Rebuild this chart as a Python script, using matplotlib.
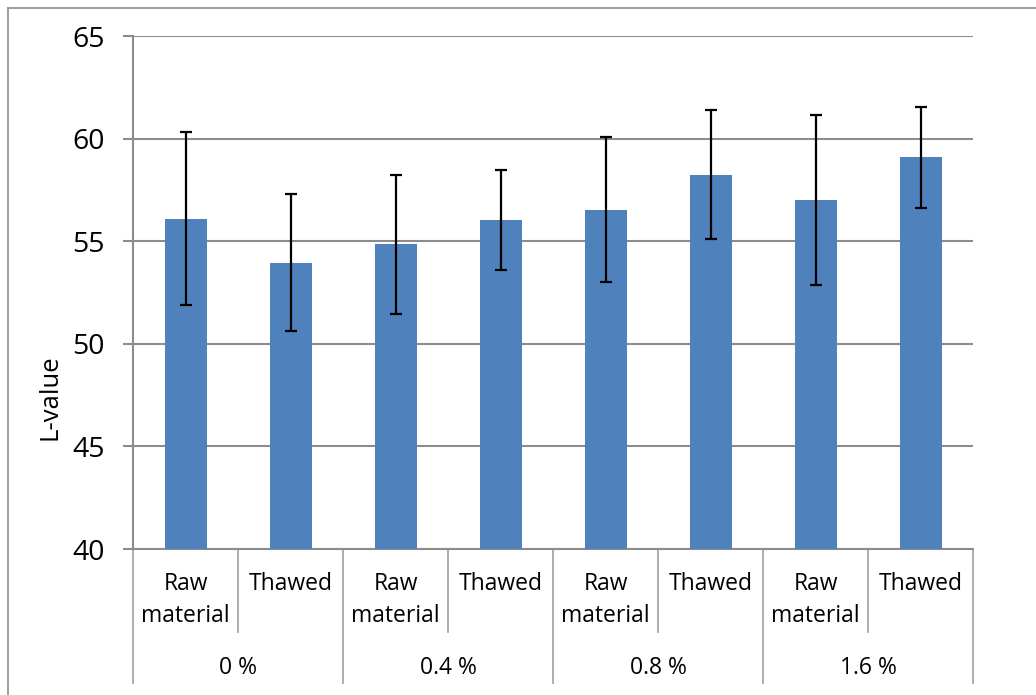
import matplotlib
matplotlib.use("Agg")
import matplotlib.pyplot as plt
from matplotlib.transforms import blended_transform_factory
from matplotlib.lines import Line2D

categories = ["Raw\nmaterial", "Thawed"] * 4
groups = ["0 %", "0.4 %", "0.8 %", "1.6 %"]
values = [56.1, 53.96, 54.85, 56.05, 56.54, 58.25, 57.0, 59.08]
errors = [4.2, 3.35, 3.4, 2.44, 3.52, 3.13, 4.13, 2.44]
yticks = [40, 45, 50, 55, 60, 65]

plt.rcParams['font.family'] = ['Open Sans', 'DejaVu Sans']

W, H = 1036, 695
fig = plt.figure(figsize=(W / 100, H / 100), dpi=100)
ax = fig.add_axes([133 / W, 1 - 549 / H, (973 - 133) / W, (549 - 36) / H])

x = list(range(len(values)))
ax.bar(x, [v - 40 for v in values], bottom=40, width=0.4, color="#4F81BD", zorder=3)
ax.errorbar(x, values, yerr=errors, fmt="none", ecolor="black", elinewidth=1.6,
            capsize=4, capthick=1.6, zorder=4)

ax.set_xlim(-0.5, len(values) - 0.5)
ax.set_ylim(40, 65)
ax.set_yticks(yticks)
ax.set_yticklabels([str(t) for t in yticks], fontsize=20.5)
ax.yaxis.grid(True, color="#8C8C8C", linewidth=1.5, zorder=0)
ax.set_axisbelow(True)
ax.tick_params(axis="y", length=7.2, width=1.5, color="#8C8C8C", direction="out", pad=13)
ax.set_xticks([])
for s in ["top", "right"]:
    ax.spines[s].set_visible(False)
for s in ["left", "bottom"]:
    ax.spines[s].set_color("#8C8C8C")
    ax.spines[s].set_linewidth(1.5)

# y-axis title, centred at pixel (50, 397)
fig.text(50 / W, 1 - 397 / H, "L-value", rotation=90, ha="center", va="center",
         fontsize=18.5)

# category separators and labels
trans = blended_transform_factory(ax.transData, fig.transFigure)
for i in range(len(values) + 1):
    b = i - 0.5
    yend = 683 if i % 2 == 0 else 632
    ax.add_line(Line2D([b, b], [1 - 549 / H, 1 - yend / H], transform=trans,
                       color="#A0A0A0", linewidth=1.2, clip_on=False))
for i, c in enumerate(categories):
    for k, line in enumerate(c.split("\n")):
        ax.text(i, 1 - (584 + 32 * k) / H, line, transform=trans, ha="center",
                va="center", fontsize=16.5)
for g, name in enumerate(groups):
    ax.text(2 * g + 0.5, 1 - 668 / H, name, transform=trans, ha="center",
            va="center", fontsize=16.5)

# outer chart border (top and left visible)
fig.add_artist(Line2D([8 / W, 1], [1 - 8 / H, 1 - 8 / H], transform=fig.transFigure,
                      color="#8C8C8C", linewidth=1.2))
fig.add_artist(Line2D([8 / W, 8 / W], [1 - 8 / H, 0], transform=fig.transFigure,
                      color="#8C8C8C", linewidth=1.2))

fig.savefig("out.png", dpi=100, facecolor="white")
